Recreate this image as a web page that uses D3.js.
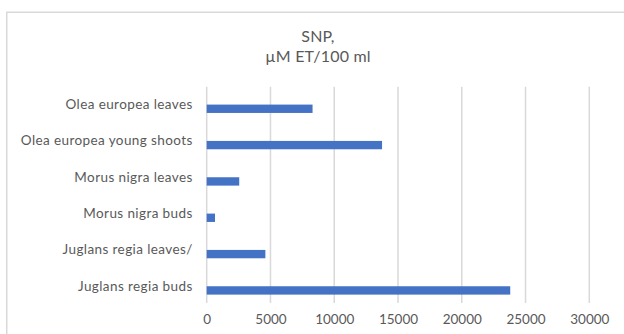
<!DOCTYPE html>
<html>
<head>
<meta charset="utf-8">
<script src="https://cdn.jsdelivr.net/npm/d3@7"></script>
<style>
  html, body { margin: 0; padding: 0; background: #fff; }
  svg { display: block; }
  text { font-family: Lato, "Open Sans", sans-serif; fill: #595959; }
</style>
</head>
<body>
<svg id="chart" width="624" height="334"></svg>
<script>
// SNP content per plant material, µM ET per 100 ml
const categories = [
  "Olea europea leaves",
  "Olea europea young shoots",
  "Morus nigra leaves",
  "Morus nigra buds",
  "Juglans regia leaves/",
  "Juglans regia buds"
];
const snpValues = [8300, 13750, 2550, 650, 4600, 23800];
const xTicks = [0, 5000, 10000, 15000, 20000, 25000, 30000];
const titleLines = ["SNP,", "\u00b5M ET/100 ml"];

const svg = d3.select("#chart");
const W = 624, H = 334;

// chart frame
svg.append("rect")
  .attr("x", 6.75).attr("y", 12.25)
  .attr("width", W).attr("height", H)
  .attr("fill", "none")
  .attr("stroke", "#d9d9d9")
  .attr("stroke-width", 1.5);

const plot = { left: 206.7, right: 589.3, top: 86.7, bottom: 303 };

const x = d3.scaleLinear().domain([0, 30000]).range([plot.left, plot.right]);
const y = d3.scaleBand().domain(categories).range([90.6, 308.6]).paddingInner(0.77).paddingOuter(0.385);

// title
svg.append("text")
  .attr("x", 318).attr("y", 42)
  .attr("text-anchor", "middle")
  .style("font-size", "16px")
  .style("letter-spacing", "0.2px")
  .selectAll("tspan")
  .data(titleLines)
  .join("tspan")
  .attr("x", 318)
  .attr("dy", (d, i) => i === 0 ? 0 : 20)
  .text(d => d);

// vertical gridlines
svg.append("g")
  .selectAll("line")
  .data(xTicks)
  .join("line")
  .attr("x1", d => x(d)).attr("x2", d => x(d))
  .attr("y1", plot.top).attr("y2", plot.bottom)
  .attr("stroke", "#d9d9d9")
  .attr("stroke-width", 1.5);

// bars
svg.append("g")
  .selectAll("rect")
  .data(categories)
  .join("rect")
  .attr("x", x(0))
  .attr("y", d => y(d))
  .attr("width", (d, i) => x(snpValues[i]) - x(0))
  .attr("height", y.bandwidth())
  .attr("fill", "#4472c4");

// x axis tick labels
const xAxis = d3.axisBottom(x).tickValues(xTicks).tickSize(0).tickPadding(0).tickFormat(d3.format("d"));
const gx = svg.append("g").attr("transform", `translate(0, ${plot.bottom + 11})`).call(xAxis);
gx.select(".domain").remove();
gx.selectAll("text")
  .style("font-family", "Lato, 'Open Sans', sans-serif")
  .style("font-size", "13.5px")
  .attr("fill", "#595959");

// category labels
const yAxis = d3.axisLeft(y).tickSize(0).tickPadding(14);
const gy = svg.append("g").attr("transform", `translate(${plot.left}, -4)`).call(yAxis);
gy.select(".domain").remove();
gy.selectAll("text")
  .style("font-family", "Lato, 'Open Sans', sans-serif")
  .style("font-size", "13.5px")
  .style("letter-spacing", "0.4px")
  .attr("fill", "#595959");
</script>
</body>
</html>
